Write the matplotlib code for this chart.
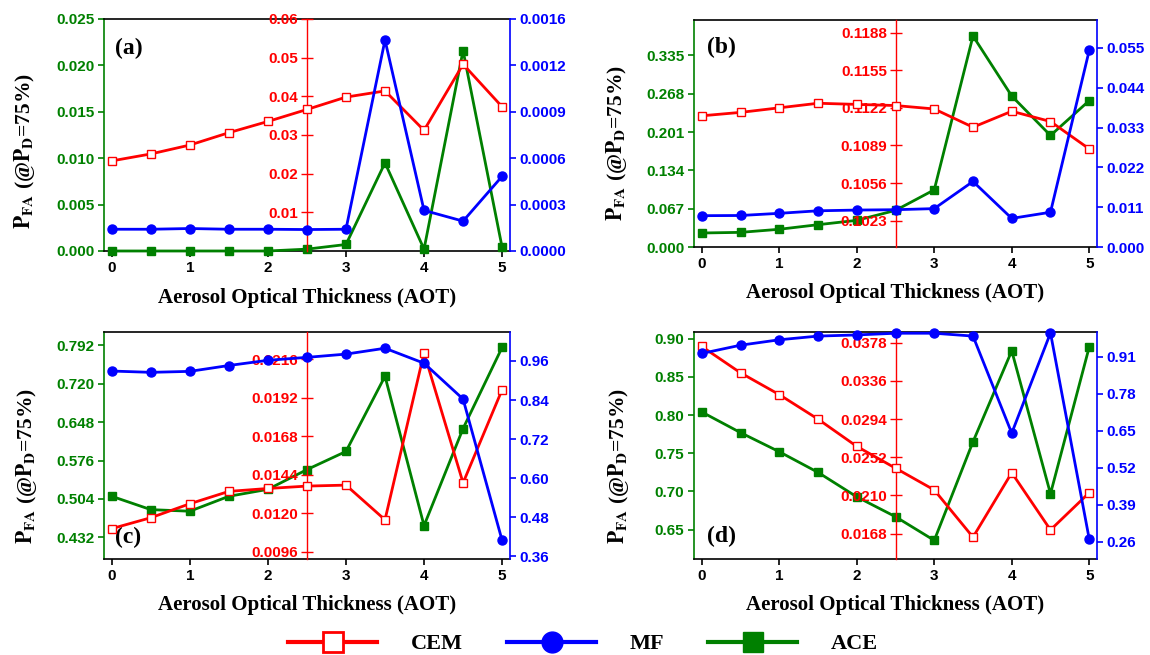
import numpy as np
import matplotlib.pyplot as plt
from matplotlib.lines import Line2D
from matplotlib.ticker import FixedLocator, FixedFormatter

plt.rcParams['mathtext.fontset'] = 'stix'
plt.rcParams['font.family'] = ['Liberation Sans', 'DejaVu Sans']

GREEN = '#008000'
RED = '#FF0000'
BLUE = '#0000FF'

aot = [0, 0.5, 1, 1.5, 2, 2.5, 3, 3.5, 4, 4.5, 5]
x_ticks = [0, 1, 2, 3, 4, 5]

# panel (a)
cem_a = [0.0233, 0.0251, 0.0274, 0.0306, 0.0335, 0.0366, 0.0398, 0.0414, 0.0312, 0.0483, 0.0373]
mf_a = [0.00015, 0.00015, 0.000155, 0.00015, 0.00015, 0.000148, 0.00015, 0.001455, 0.00028, 0.000206, 0.000515]
ace_a = [0.0, 0.0, 0.0, 0.0, 0.0, 0.0002, 0.0007, 0.0095, 0.0002, 0.0216, 0.0004]

# panel (b)
cem_b = [0.1115, 0.1118, 0.1122, 0.1126, 0.1125, 0.1124, 0.1121, 0.1105, 0.1119, 0.1110, 0.1086]
mf_b = [0.00865, 0.0087, 0.0093, 0.0100, 0.0102, 0.0103, 0.0106, 0.0181, 0.0079, 0.0096, 0.0543]
ace_b = [0.0245, 0.0256, 0.031, 0.039, 0.0466, 0.064, 0.100, 0.369, 0.264, 0.195, 0.256]

# panel (c)
cem_c = [0.01105, 0.01173, 0.0126, 0.01337, 0.01355, 0.0137, 0.01376, 0.0116, 0.0220, 0.0139, 0.0197]
mf_c = [0.929, 0.925, 0.928, 0.946, 0.962, 0.971, 0.981, 0.999, 0.953, 0.843, 0.409]
ace_c = [0.509, 0.484, 0.481, 0.509, 0.522, 0.559, 0.593, 0.734, 0.454, 0.636, 0.788]

# panel (d)
cem_d = [0.0374, 0.0345, 0.0321, 0.0294, 0.0264, 0.0240, 0.0216, 0.0164, 0.0235, 0.0172, 0.0213]
mf_d = [0.922, 0.951, 0.970, 0.983, 0.987, 0.993, 0.993, 0.983, 0.642, 0.994, 0.270]
ace_d = [0.804, 0.777, 0.752, 0.725, 0.693, 0.667, 0.636, 0.765, 0.884, 0.697, 0.889]

# axis tick labels
ace_ticks_a = ['0.000', '0.005', '0.010', '0.015', '0.020', '0.025']
cem_ticks_a = ['0.01', '0.02', '0.03', '0.04', '0.05', '0.06']
mf_tickpos_a = [0, 0.00032, 0.00064, 0.00096, 0.00128, 0.0016]
mf_ticks_a = ['0.0000', '0.0003', '0.0006', '0.0009', '0.0012', '0.0016']

ace_ticks_b = ['0.000', '0.067', '0.134', '0.201', '0.268', '0.335']
cem_ticks_b = ['0.1023', '0.1056', '0.1089', '0.1122', '0.1155', '0.1188']
mf_ticks_b = ['0.000', '0.011', '0.022', '0.033', '0.044', '0.055']

ace_ticks_c = ['0.432', '0.504', '0.576', '0.648', '0.720', '0.792']
cem_ticks_c = ['0.0096', '0.0120', '0.0144', '0.0168', '0.0192', '0.0216']
mf_ticks_c = ['0.36', '0.48', '0.60', '0.72', '0.84', '0.96']

ace_ticks_d = ['0.65', '0.70', '0.75', '0.80', '0.85', '0.90']
cem_ticks_d = ['0.0168', '0.0210', '0.0252', '0.0294', '0.0336', '0.0378']
mf_ticks_d = ['0.26', '0.39', '0.52', '0.65', '0.78', '0.91']

panels = [
    dict(tag='(a)', rect=[0.0904, 0.6168, 0.3530, 0.3542], cem=cem_a, mf=mf_a, ace=ace_a,
         ace_lim=(0, 0.025), cem_lim=(0, 0.06), mf_lim=(0, 0.0016),
         ace_t=ace_ticks_a, cem_t=cem_ticks_a, mf_t=mf_ticks_a, mf_pos=mf_tickpos_a,
         tag_xy=(0.027, 0.92), tag_va='top', ylab=(-0.165, 0.43)),
    dict(tag='(b)', rect=[0.6035, 0.6229, 0.3504, 0.3466], cem=cem_b, mf=mf_b, ace=ace_b,
         ace_lim=(0, 0.397), cem_lim=(0.1, 0.1199), mf_lim=(0, 0.0627),
         ace_t=ace_ticks_b, cem_t=cem_ticks_b, mf_t=mf_ticks_b, mf_pos=None,
         tag_xy=(0.032, 0.925), tag_va='top', ylab=(-0.161, 0.46)),
    dict(tag='(c)', rect=[0.0904, 0.1466, 0.3530, 0.3466], cem=cem_c, mf=mf_c, ace=ace_c,
         ace_lim=(0.3915, 0.817), cem_lim=(0.00916, 0.0233), mf_lim=(0.352, 1.049),
         ace_t=ace_ticks_c, cem_t=cem_ticks_c, mf_t=mf_ticks_c, mf_pos=None,
         tag_xy=(0.027, 0.05), tag_va='bottom', ylab=(-0.160, 0.41)),
    dict(tag='(d)', rect=[0.6035, 0.1466, 0.3504, 0.3466], cem=cem_d, mf=mf_d, ace=ace_d,
         ace_lim=(0.6117, 0.9087), cem_lim=(0.0140, 0.0390), mf_lim=(0.2, 0.9975),
         ace_t=ace_ticks_d, cem_t=cem_ticks_d, mf_t=mf_ticks_d, mf_pos=None,
         tag_xy=(0.032, 0.053), tag_va='bottom', ylab=(-0.156, 0.41)),
]

serif = ['Liberation Serif', 'DejaVu Serif']
lw = 2.0
ms = 5.5
spw = 1.2

fig = plt.figure(figsize=(11.5, 6.55), dpi=100)

for p in panels:
    ax = fig.add_axes(p['rect'])
    ax_r = ax.twinx()
    ax_b = ax.twinx()

    ax.plot(aot, p['ace'], color=GREEN, lw=lw, marker='s', ms=ms, clip_on=False, zorder=3)
    ax_r.plot(aot, p['cem'], color=RED, lw=lw, marker='s', ms=ms, mfc='white', mew=1.0, clip_on=False, zorder=3)
    ax_b.plot(aot, p['mf'], color=BLUE, lw=lw, marker='o', ms=ms + 1, clip_on=False, zorder=3)

    ax.set_xlim(-0.1, 5.1)
    ax.set_ylim(*p['ace_lim'])
    ax_r.set_ylim(*p['cem_lim'])
    ax_b.set_ylim(*p['mf_lim'])

    # x axis
    ax.set_xticks(x_ticks)
    ax.set_xticklabels([str(t) for t in x_ticks], fontsize=11, fontweight='bold')
    ax.tick_params(axis='x', direction='out', length=4, width=spw, pad=3)
    ax.set_xlabel('Aerosol Optical Thickness (AOT)', family=serif, fontsize=15, fontweight='bold')
    ax.xaxis.set_label_coords(0.5, -0.16)

    # green left axis
    ace_pos = [float(t) for t in p['ace_t']]
    ax.yaxis.set_major_locator(FixedLocator(ace_pos))
    ax.yaxis.set_major_formatter(FixedFormatter(p['ace_t']))
    ax.tick_params(axis='y', colors=GREEN, direction='out', length=4, width=spw, pad=3, labelsize=11)
    for lab in ax.get_yticklabels():
        lab.set_fontweight('bold')
    ax.spines['left'].set_color(GREEN)
    ax.spines['right'].set_visible(False)
    for s in ['left', 'top', 'bottom']:
        ax.spines[s].set_linewidth(spw)

    ax.set_ylabel(r'$\mathbf{P_{FA}}$ (@$\mathbf{P_{D}}$=75%)', family=serif, fontsize=15.5, fontweight='bold')
    ax.yaxis.set_label_coords(*p['ylab'])

    # red axis, spine at AOT = 2.5
    for s in ax_r.spines.values():
        s.set_visible(False)
    ax_r.spines['left'].set_visible(True)
    ax_r.spines['left'].set_position(('data', 2.5))
    ax_r.spines['left'].set_color(RED)
    ax_r.spines['left'].set_linewidth(1.0)
    ax_r.yaxis.set_ticks_position('left')
    ax_r.yaxis.set_label_position('left')
    cem_pos = [float(t) for t in p['cem_t']]
    ax_r.yaxis.set_major_locator(FixedLocator(cem_pos))
    ax_r.yaxis.set_major_formatter(FixedFormatter(p['cem_t']))
    ax_r.tick_params(axis='y', colors=RED, direction='inout', length=8.5, width=1.0, pad=2, labelsize=11)
    for lab in ax_r.get_yticklabels():
        lab.set_fontweight('bold')

    # blue right axis
    for s in ax_b.spines.values():
        s.set_visible(False)
    ax_b.spines['right'].set_visible(True)
    ax_b.spines['right'].set_color(BLUE)
    ax_b.spines['right'].set_linewidth(spw)
    mf_pos = p['mf_pos'] if p['mf_pos'] is not None else [float(t) for t in p['mf_t']]
    ax_b.yaxis.set_major_locator(FixedLocator(mf_pos))
    ax_b.yaxis.set_major_formatter(FixedFormatter(p['mf_t']))
    ax_b.tick_params(axis='y', colors=BLUE, direction='out', length=4, width=spw, pad=3, labelsize=11)
    for lab in ax_b.get_yticklabels():
        lab.set_fontweight('bold')

    ax.text(p['tag_xy'][0], p['tag_xy'][1], p['tag'], transform=ax.transAxes, ha='left',
            va=p['tag_va'], family=serif, fontsize=17, fontweight='bold')

handles = [
    Line2D([], [], color=RED, lw=3, marker='s', ms=15, mfc='white', mew=2),
    Line2D([], [], color=BLUE, lw=3, marker='o', ms=15),
    Line2D([], [], color=GREEN, lw=3, marker='s', ms=15),
]
fig.legend(handles, ['CEM', 'MF', 'ACE'], loc='center', bbox_to_anchor=(0.507, 1 - 644 / 655),
           ncol=3, frameon=False, handlelength=4.0, handletextpad=1.5, columnspacing=2.0,
           prop=dict(family=serif, size=16, weight='bold'))

fig.savefig('out.png', dpi=100)
